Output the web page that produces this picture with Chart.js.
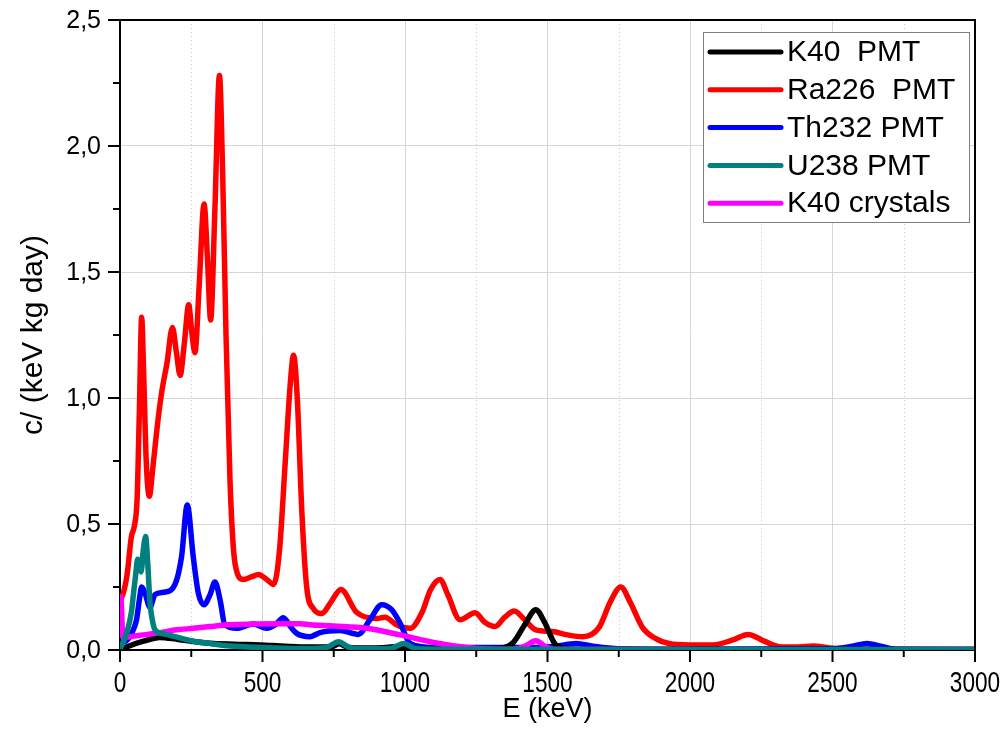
<!DOCTYPE html>
<html>
<head>
<meta charset="utf-8">
<script src="https://cdn.jsdelivr.net/npm/chart.js@4/dist/chart.umd.min.js"></script>
<style>
  html, body { margin: 0; padding: 0; background: #fff; }
  #wrap { width: 1005px; height: 748px; }
</style>
</head>
<body>
<div id="wrap"><canvas id="myChart" width="1005" height="748"></canvas></div>
<script>
// values (E in keV, c in 1/(keV kg day))
var ra226E = [0, 10, 25, 40, 50, 60, 68, 76, 83, 92, 103, 115, 130, 146, 165, 184, 198, 211, 226, 241, 252, 263, 278, 295, 307, 318, 333, 349, 360, 372, 386, 404, 433, 460, 486, 515, 539, 560, 580, 597, 609, 622, 638, 655, 678, 708, 740, 775, 830, 900, 930, 970, 1018, 1060, 1090, 1123, 1150, 1193, 1246, 1280, 1316, 1350, 1383, 1420, 1459, 1517, 1570, 1623, 1681, 1720, 1757, 1790, 1833, 1880, 1926, 1996, 2080, 2150, 2204, 2260, 2320, 2380, 2432, 2490, 2600, 2800, 3000];
var ra226C = [0.20, 0.22, 0.30, 0.45, 0.49, 0.60, 0.95, 1.32, 1.10, 0.75, 0.61, 0.72, 0.88, 1.02, 1.14, 1.28, 1.18, 1.09, 1.22, 1.37, 1.26, 1.18, 1.45, 1.77, 1.55, 1.31, 1.75, 2.28, 1.90, 1.25, 0.67, 0.34, 0.28, 0.29, 0.30, 0.28, 0.26, 0.40, 0.75, 1.05, 1.17, 1.00, 0.55, 0.25, 0.165, 0.145, 0.19, 0.24, 0.15, 0.125, 0.13, 0.10, 0.086, 0.15, 0.24, 0.28, 0.22, 0.12, 0.148, 0.11, 0.093, 0.13, 0.155, 0.12, 0.08, 0.073, 0.06, 0.053, 0.09, 0.19, 0.25, 0.19, 0.09, 0.045, 0.026, 0.02, 0.02, 0.04, 0.062, 0.035, 0.012, 0.012, 0.016, 0.008, 0.003, 0.002, 0.002];

var th232E = [0, 20, 35, 50, 58, 68, 76, 88, 105, 123, 158, 193, 216, 236, 257, 275, 295, 316, 333, 351, 368, 410, 468, 515, 545, 573, 600, 620, 667, 702, 772, 836, 877, 918, 953, 983, 1018, 1100, 1300, 1450, 1530, 1600, 1660, 1750, 2000, 2500, 2570, 2621, 2670, 2720, 3000];
var th232C = [0.026, 0.035, 0.053, 0.09, 0.12, 0.20, 0.25, 0.225, 0.17, 0.22, 0.23, 0.26, 0.37, 0.575, 0.37, 0.225, 0.18, 0.22, 0.27, 0.20, 0.10, 0.086, 0.103, 0.086, 0.10, 0.128, 0.09, 0.066, 0.053, 0.069, 0.077, 0.062, 0.12, 0.18, 0.16, 0.106, 0.026, 0.01, 0.01, 0.01, 0.015, 0.026, 0.015, 0.005, 0.003, 0.005, 0.015, 0.026, 0.015, 0.003, 0.002];

var u238E = [0, 23, 40, 47, 55, 62, 68, 74, 82, 90, 97, 105, 115, 123, 150, 176, 220, 258, 320, 375, 450, 550, 650, 725, 767, 805, 850, 950, 995, 1040, 1200, 1500, 2000, 3000];
var u238C = [0.005, 0.065, 0.15, 0.22, 0.30, 0.36, 0.33, 0.31, 0.40, 0.45, 0.35, 0.19, 0.11, 0.08, 0.065, 0.058, 0.045, 0.035, 0.025, 0.017, 0.012, 0.008, 0.006, 0.01, 0.033, 0.01, 0.005, 0.006, 0.026, 0.005, 0.003, 0.002, 0.002, 0.002];

var k40PmtE = [0, 30, 82, 140, 199, 250, 316, 400, 492, 580, 667, 740, 770, 800, 900, 1000, 1040, 1200, 1330, 1380, 1420, 1459, 1490, 1530, 1600, 2000, 3000];
var k40PmtC = [0.0, 0.015, 0.035, 0.05, 0.043, 0.035, 0.027, 0.023, 0.02, 0.015, 0.012, 0.012, 0.025, 0.01, 0.008, 0.015, 0.006, 0.005, 0.006, 0.03, 0.10, 0.16, 0.11, 0.02, 0.003, 0.002, 0.002];

var k40CrysE = [0, 4, 10, 30, 82, 140, 199, 257, 316, 374, 468, 573, 632, 667, 749, 866, 983, 1100, 1217, 1287, 1377, 1420, 1459, 1495, 1520, 2000];
var k40CrysC = [0.22, 0.20, 0.05, 0.052, 0.06, 0.069, 0.08, 0.086, 0.093, 0.10, 0.103, 0.104, 0.104, 0.10, 0.095, 0.086, 0.06, 0.03, 0.01, 0.004, 0.003, 0.015, 0.037, 0.012, 0.003, 0.002];

var seriesLabels = ["K40  PMT", "Ra226  PMT", "Th232 PMT", "U238 PMT", "K40 crystals"];
var seriesColors = ["#000000", "#ff0000", "#0000ff", "#008080", "#ff00ff"];

var xTickLabels = ["0", "500", "1000", "1500", "2000", "2500", "3000"];
var yTickLabels = ["0,0", "0,5", "1,0", "1,5", "2,0", "2,5"];

function toPoints(es, cs) {
    var pts = [];
    for (var i = 0; i < es.length; i++) {
        pts.push({ x: es[i], y: cs[i] });
    }
    return pts;
}

function makeSet(idx, es, cs, order) {
    return {
        label: seriesLabels[idx],
        data: toPoints(es, cs),
        borderColor: seriesColors[idx],
        backgroundColor: seriesColors[idx],
        borderWidth: 5.5,
        pointRadius: 0,
        fill: false,
        showLine: true,
        cubicInterpolationMode: 'monotone',
        order: order
    };
}

function isMajor(v, step) {
    var r = v / step;
    return Math.abs(r - Math.round(r)) < 1e-6;
}

// dotted minor grid, tick marks + labels, frame and legend
var decorPlugin = {
    id: 'decor',
    beforeDatasetsDraw: function (chart) {
        var ctx = chart.ctx;
        var a = chart.chartArea;
        var xs = chart.scales.x;
        ctx.save();
        ctx.strokeStyle = '#c8c8c8';
        ctx.lineWidth = 1;
        ctx.setLineDash([1, 3]);
        for (var v = 250; v < 3000; v += 500) {
            var px = Math.round(xs.getPixelForValue(v)) + 0.5;
            ctx.beginPath();
            ctx.moveTo(px, a.top);
            ctx.lineTo(px, a.bottom);
            ctx.stroke();
        }
        ctx.restore();
    },
    afterDraw: function (chart) {
        var ctx = chart.ctx;
        var a = chart.chartArea;
        var xs = chart.scales.x;
        var ys = chart.scales.y;
        ctx.save();
        ctx.strokeStyle = '#000';
        ctx.lineWidth = 2;
        // frame
        ctx.beginPath();
        ctx.moveTo(a.left, a.top);
        ctx.lineTo(a.right, a.top);
        ctx.lineTo(a.right, a.bottom);
        ctx.stroke();
        // tick marks
        xs.ticks.forEach(function (t) {
            var px = xs.getPixelForValue(t.value);
            var len = isMajor(t.value, 500) ? 12 : 7;
            ctx.beginPath();
            ctx.moveTo(px, a.bottom);
            ctx.lineTo(px, a.bottom + len);
            ctx.stroke();
        });
        ys.ticks.forEach(function (t) {
            var py = ys.getPixelForValue(t.value);
            var len = isMajor(t.value, 0.5) ? 12 : 7;
            ctx.beginPath();
            ctx.moveTo(a.left, py);
            ctx.lineTo(a.left - len, py);
            ctx.stroke();
        });

        // tick labels
        ctx.fillStyle = '#000';
        ctx.textBaseline = 'middle';
        ctx.textAlign = 'right';
        ctx.font = '25px "Liberation Sans", Arial, sans-serif';
        yTickLabels.forEach(function (lbl, i) {
            ctx.fillText(lbl, a.left - 19, ys.getPixelForValue(i * 0.5) + 1);
        });
        ctx.textAlign = 'center';
        ctx.font = '29px "Liberation Sans", Arial, sans-serif';
        xTickLabels.forEach(function (lbl, i) {
            var px = xs.getPixelForValue(i * 500);
            ctx.save();
            ctx.translate(px, a.bottom + 34);
            ctx.scale(0.78, 1);
            ctx.fillText(lbl, 0, 0);
            ctx.restore();
        });

        // legend box
        var bx = 703, by = 32, bw = 266, bh = 190;
        ctx.fillStyle = '#fff';
        ctx.fillRect(bx, by, bw, bh);
        ctx.strokeStyle = '#808080';
        ctx.lineWidth = 1;
        ctx.strokeRect(bx + 0.5, by + 0.5, bw, bh);
        ctx.font = '30px "Liberation Sans", Arial, sans-serif';
        ctx.textBaseline = 'middle';
        ctx.textAlign = 'left';
        chart.data.datasets.forEach(function (ds, i) {
            var ry = by + 20 + i * 37.8;
            ctx.strokeStyle = ds.borderColor;
            ctx.lineWidth = 5;
            ctx.lineCap = 'round';
            ctx.beginPath();
            ctx.moveTo(bx + 7, ry);
            ctx.lineTo(bx + 78, ry);
            ctx.stroke();
            ctx.fillStyle = '#000';
            ctx.fillText(ds.label, bx + 84, ry + 1);
        });
        ctx.restore();
    }
};

var ctx = document.getElementById('myChart').getContext('2d');
var myChart = new Chart(ctx, {
    type: 'scatter',
    data: {
        datasets: [
            makeSet(0, k40PmtE, k40PmtC, 2),
            makeSet(1, ra226E, ra226C, 4),
            makeSet(2, th232E, th232C, 3),
            makeSet(3, u238E, u238C, 0),
            makeSet(4, k40CrysE, k40CrysC, 1)
        ]
    },
    options: {
        responsive: false,
        animation: false,
        layout: { padding: { top: 20, right: 30, left: 0, bottom: 0 } },
        plugins: {
            legend: { display: false },
            tooltip: { enabled: false }
        },
        scales: {
            x: {
                type: 'linear',
                min: 0,
                max: 3000,
                afterFit: function (s) { s.height = 98; },
                afterBuildTicks: function (s) {
                    var t = [];
                    for (var v = 0; v <= 3000; v += 250) t.push({ value: v });
                    s.ticks = t;
                },
                ticks: { display: false, autoSkip: false },
                grid: {
                    drawTicks: false,
                    color: function (c) {
                        return (c.tick && isMajor(c.tick.value, 500)) ? '#d6d6d6' : 'rgba(0,0,0,0)';
                    }
                },
                border: { color: '#000', width: 2 },
                title: {
                    display: true,
                    text: 'E (keV)',
                    color: '#000',
                    font: { family: '"Liberation Sans", Arial, sans-serif', size: 27 },
                    padding: { top: 0, bottom: 22 }
                }
            },
            y: {
                type: 'linear',
                min: 0,
                max: 2.5,
                afterFit: function (s) { s.width = 120; },
                afterBuildTicks: function (s) {
                    var t = [];
                    for (var i = 0; i <= 10; i++) t.push({ value: i * 0.25 });
                    s.ticks = t;
                },
                ticks: { display: false, autoSkip: false },
                grid: {
                    drawTicks: false,
                    color: function (c) {
                        return (c.tick && isMajor(c.tick.value, 0.5)) ? '#d6d6d6' : 'rgba(0,0,0,0)';
                    }
                },
                border: { color: '#000', width: 2 },
                title: {
                    display: true,
                    text: 'c/ (keV kg day)',
                    color: '#000',
                    font: { family: '"Liberation Sans", Arial, sans-serif', size: 30 },
                    padding: { top: 16, bottom: 0 }
                }
            }
        }
    },
    plugins: [decorPlugin]
});
</script>
</body>
</html>
